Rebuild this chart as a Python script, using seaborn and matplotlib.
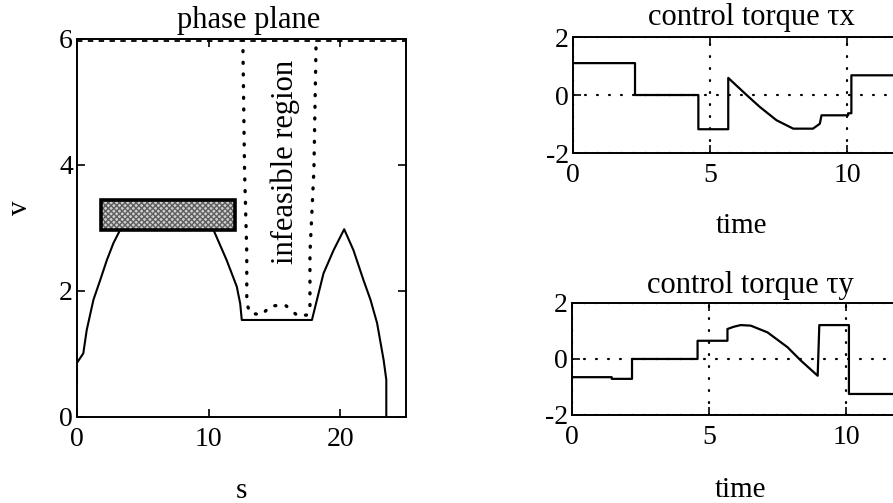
import matplotlib
matplotlib.use("Agg")
import matplotlib.pyplot as plt
import seaborn as sns
import pandas as pd
from matplotlib.patches import Rectangle

# ---------------- data ----------------
# phase-plane trajectory (s, v)
phase_s = [0, 0.0, 0.48, 0.74, 1.25, 1.76, 2.27, 2.77, 3.28, 10.37, 11.37, 12.14, 12.4, 12.52,
           17.85, 18.73, 19.5, 20.3, 21.0, 21.77, 22.3, 22.8, 23.3, 23.5, 23.5]
phase_v = [0.54, 0.86, 1.01, 1.38, 1.86, 2.17, 2.49, 2.76, 2.97, 2.97, 2.49, 2.07, 1.8, 1.54,
           1.54, 2.28, 2.65, 2.98, 2.65, 2.17, 1.86, 1.49, 0.9, 0.59, 0]
# infeasible region boundary
infeas_s = [12.6, 12.73, 12.9, 12.9, 13.15, 14.04, 14.68, 15.8, 16.8, 17.5, 17.7, 17.7, 18.0, 18.17]
infeas_v = [6.0, 3.92, 2.6, 1.8, 1.65, 1.62, 1.76, 1.78, 1.6, 1.62, 1.75, 2.6, 3.92, 6.0]
# upper velocity bound
bound_s = [0, 25]
bound_v = [5.97, 5.97]
# target box (s range, v range)
box_s = [1.81, 12.0]
box_v = [2.97, 3.44]

# control torques
tx_t = [0, 2.26, 2.26, 4.57, 4.57, 5.66, 5.66, 6.33, 6.81, 7.42, 8.03, 8.75, 9.0, 9.06,
        10.03, 10.03, 10.15, 10.15, 12]
tx_val = [1.1, 1.1, 0, 0, -1.18, -1.18, 0.59, 0, -0.41, -0.87, -1.16, -1.16, -0.99, -0.7,
          -0.7, -0.63, -0.63, 0.68, 0.68]
ty_t = [0, 1.45, 1.45, 2.19, 2.19, 4.58, 4.58, 5.67, 5.67, 5.9, 6.15, 6.52, 7.13, 7.86,
        8.35, 8.96, 9.02, 10.1, 10.1, 12]
ty_val = [-0.65, -0.65, -0.71, -0.71, 0, 0, 0.65, 0.65, 1.07, 1.15, 1.21, 1.19, 0.95, 0.42,
          -0.06, -0.6, 1.21, 1.21, -1.25, -1.25]

phase_xticks = [0, 10, 20]
phase_yticks = [0, 2, 4, 6]
time_xticks = [0, 5, 10]
torque_yticks = [-2, 0, 2]
torque_yticklabels = ["-2", "0", "2"]

# ---------------- style ----------------
sns.set_theme(style="ticks")
plt.rcParams["font.family"] = ["Liberation Serif", "DejaVu Serif"]
plt.rcParams["axes.linewidth"] = 1.4
plt.rcParams["axes.edgecolor"] = "black"
plt.rcParams["axes.labelcolor"] = "black"
plt.rcParams["axes.titlecolor"] = "black"
plt.rcParams["text.color"] = "black"
plt.rcParams["xtick.color"] = "black"
plt.rcParams["ytick.color"] = "black"
plt.rcParams["xtick.labelcolor"] = "black"
plt.rcParams["ytick.labelcolor"] = "black"

TICK_FS = 20
TITLE_FS = 22
LABEL_FS = 21

fig = plt.figure(figsize=(8.93, 5.03), dpi=100)
ax1 = fig.add_axes([0.0862, 0.171, 0.3685, 0.7515])
ax2 = fig.add_axes([0.6417, 0.6958, 0.3685, 0.2306])
ax3 = fig.add_axes([0.6405, 0.175, 0.3685, 0.2227])

# ---------------- phase plane ----------------
df_phase = pd.DataFrame({"s": phase_s, "v": phase_v})
sns.lineplot(data=df_phase, x="s", y="v", sort=False, estimator=None,
             color="black", lw=1.5, ax=ax1)
df_inf = pd.DataFrame({"s": infeas_s, "v": infeas_v})
sns.lineplot(data=df_inf, x="s", y="v", sort=False, estimator=None,
             color="black", lw=2.4, ax=ax1, dashes=False,
             linestyle=(0, (0.3, 3.2)), dash_capstyle="round")
df_bound = pd.DataFrame({"s": bound_s, "v": bound_v})
sns.lineplot(data=df_bound, x="s", y="v", sort=False, estimator=None,
             color="black", lw=1.3, ax=ax1, linestyle=(0, (3, 3)))

ax1.add_patch(Rectangle((box_s[0], box_v[0]), box_s[1] - box_s[0], box_v[1] - box_v[0],
                        facecolor="#d0d0d0", edgecolor="#5e5e5e", hatch="xxxxxx",
                        linewidth=0, zorder=3))
ax1.add_patch(Rectangle((box_s[0], box_v[0]), box_s[1] - box_s[0], box_v[1] - box_v[0],
                        fill=False, edgecolor="black", linewidth=2.6, zorder=4))

ax1.text(15.8, 4.05, "infeasible region", rotation=90, ha="center", va="center",
         fontsize=TITLE_FS, color="black")

ax1.set_xlim(0, 25)
ax1.set_ylim(0, 6)
ax1.set_xticks(phase_xticks)
ax1.set_yticks(phase_yticks)
ax1.set_xlabel("s", fontsize=LABEL_FS)
ax1.set_ylabel("v", fontsize=LABEL_FS)
ax1.xaxis.set_label_coords(0.5, -0.214)
ax1.xaxis.label.set_verticalalignment("baseline")
ax1.yaxis.set_label_coords(-0.173, 0.553)
ax1.yaxis.label.set_verticalalignment("center")
t1 = ax1.set_title("phase plane", fontsize=TITLE_FS, y=1.028, pad=0)
t1.set_x(0.523)

# ---------------- torques ----------------
for ax, tt, vv, title, ty, xlab_y in [
    (ax2, tx_t, tx_val, "control torque τx", 1.103, -0.69),
    (ax3, ty_t, ty_val, "control torque τy", 1.087, -0.73),
]:
    df = pd.DataFrame({"time": tt, "torque": vv})
    ax.grid(True, color="black", linestyle=(0, (0.4, 5)), linewidth=1.6,
            dash_capstyle="round")
    sns.lineplot(data=df, x="time", y="torque", sort=False, estimator=None,
                 color="black", lw=1.6, ax=ax)
    ax.set_xlim(0, 12)
    ax.set_ylim(-2, 2)
    ax.set_xticks(time_xticks)
    ax.set_yticks(torque_yticks)
    ax.set_yticklabels(torque_yticklabels)
    ax.set_ylabel("")
    ax.set_xlabel("time", fontsize=LABEL_FS)
    ax.xaxis.set_label_coords(0.513, xlab_y)
    ax.xaxis.label.set_verticalalignment("baseline")
    t = ax.set_title(title, fontsize=TITLE_FS, y=ty, pad=0)
    t.set_x(0.541)

for ax in (ax1, ax2, ax3):
    for sp in ax.spines.values():
        sp.set_visible(True)
        sp.set_linewidth(1.4)
    ax.tick_params(direction="in", top=True, right=True, length=6, width=1.2,
                   labelsize=TICK_FS)
    ax.tick_params(axis="x", pad=7)
    ax.tick_params(axis="y", pad=3)

fig.savefig("out.png", dpi=100)
